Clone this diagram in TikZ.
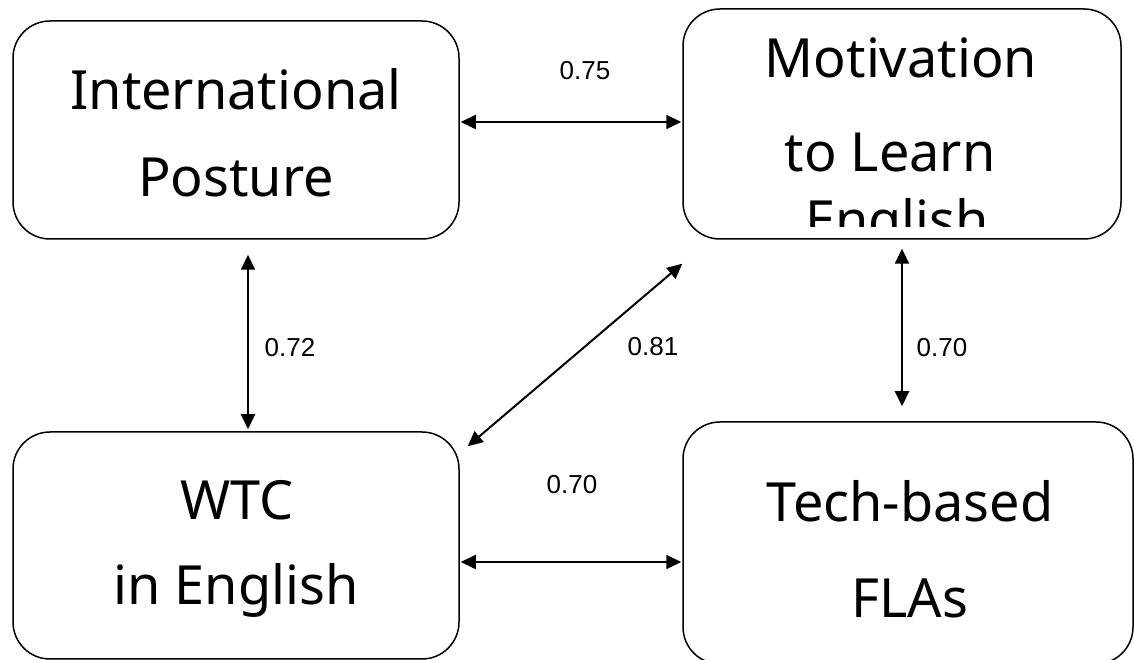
\documentclass[tikz,border=0pt]{standalone}
\usepackage{fontspec}
\setmainfont{Noto Sans}
\newfontfamily\numfont{Liberation Sans}
\usetikzlibrary{calc,arrows.meta}

\begin{document}
\begin{tikzpicture}[x=1pt,y=1pt,>={Triangle[length=15pt,width=14pt]},
    box/.style={draw,line width=1.5pt,rounded corners=37pt,inner sep=0pt},
    boxtext/.style={anchor=base,inner sep=0pt,font=\fontsize{54}{60}\selectfont},
    link/.style={<->,line width=2pt},
    coef/.style={font=\numfont\fontsize{26}{30}\selectfont}]
        \useasboundingbox (0,0) rectangle (1134,660);
        \node[box,minimum width=446pt,minimum height=218pt] (ip) at (236,530) {};
        \node[box,minimum width=438pt,minimum height=230pt] (mot) at (902,536) {};
        \node[box,minimum width=446pt,minimum height=227pt] (wtc) at (236,114.5) {};
        \node[box,minimum width=450pt,minimum height=242pt] (tech) at (908,117) {};
        \node[boxtext] (ipA) at (236,550) {International};
        \node[boxtext] (ipB) at (236,463) {Posture};
        \begin{scope}
            \clip (683,433) rectangle (1121,651);
            \node[boxtext] (motA) at (901,582) {Motivation};
            \node[boxtext] (motB) at (890,488) {to Learn};
            \node[boxtext] (motC) at (897,420) {English};
        \end{scope}
        \node[boxtext] (wtcA) at (237,140) {WTC};
        \node[boxtext] (wtcB) at (236,55) {in English};
        \node[boxtext] (techA) at (910,138) {Tech-based};
        \node[boxtext] (techB) at (910,42) {FLAs};
        % correlations
        \draw[link] ($(ip.east)+(1,8)$) -- ($(mot.west |- ip.east)+(-1,8)$);
        \draw[link] ($(ip.south)+(12,-15)$) -- ($(wtc.north)+(12,2)$);
        \draw[link] ($(mot.south west)+(0,-24)$) -- ($(wtc.north east)+(8,-15)$);
        \draw[link] ($(mot.south)+(0,-9)$) -- ($(mot.south |- tech.north)+(0,15)$);
        \draw[link] ($(wtc.east)+(1,-16.5)$) -- ($(wtc.east -| tech.west)+(-1,-16.5)$);
        \node[coef] (rA) at (585,589) {0.75};
        \node[coef] (rB) at (290,312) {0.72};
        \node[coef] (rC) at (653,313) {0.81};
        \node[coef] (rD) at (942,312) {0.70};
        \node[coef] (rE) at (572,175) {0.70};
      \end{tikzpicture}
\end{document}
